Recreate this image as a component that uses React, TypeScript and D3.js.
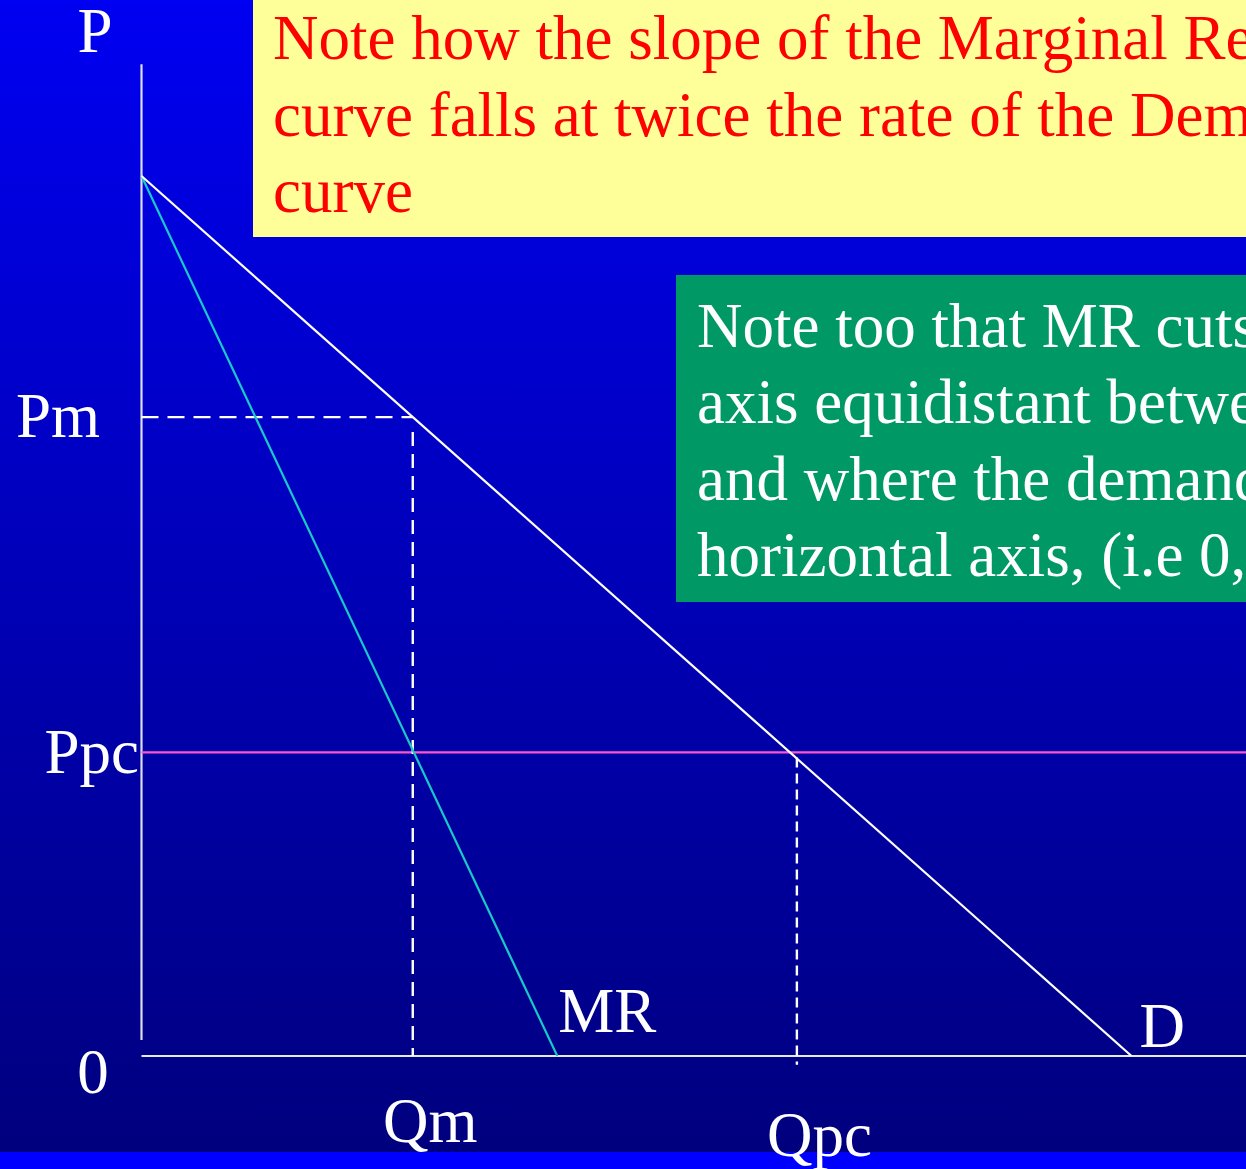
import React from "react";
import * as d3 from "d3";

// Monopoly vs. perfect competition: linear demand and its marginal revenue curve.
const W = 1246;
const H = 1169;

// Price axis runs 0..100 (demand intercept at 100); quantity axis 0..100 (demand intercept at 100).
const demandQ = [0, 100];
const demandP = [100, 0];
const mrQ = [0, 42];
const mrP = [100, 0];

const qm = 27.4; // monopoly output
const pm = 72.6; // monopoly price
const qpc = 66.2; // competitive output
const ppc = 34.5; // competitive price

const axisQExtent = [0, 112];
const axisPExtent = [-0.2, 112.7];

const noteLines = [
  "Note how the slope of the Marginal Revenue",
  "curve falls at twice the rate of the Demand",
  "curve",
];
const noteTwoLines = [
  "Note too that MR cuts the horizontal",
  "axis equidistant between the origin",
  "and where the demand curve cuts the",
  "horizontal axis, (i.e 0, Qpc)",
];

const FONT = "'Liberation Serif', 'Times New Roman', serif";

export default function App() {
  const x = d3.scaleLinear().domain([0, 100]).range([141.5, 1131.5]);
  const y = d3.scaleLinear().domain([0, 100]).range([1056, 176]);

  const line = d3
    .line<[number, number]>()
    .x((d) => x(d[0]))
    .y((d) => y(d[1]));

  const demand = line(demandQ.map((q, i) => [q, demandP[i]] as [number, number]));
  const mr = line(mrQ.map((q, i) => [q, mrP[i]] as [number, number]));

  const label = {
    fill: "#ffffff",
    fontFamily: FONT,
    fontSize: 63,
  } as const;

  return (
    <svg
      width={W}
      height={H}
      viewBox={`0 0 ${W} ${H}`}
      style={{ position: "absolute", left: 0, top: 0, display: "block" }}
    >
      <defs>
        <linearGradient id="bg" x1="0" y1="0" x2="0" y2="1">
          <stop offset="0%" stopColor="rgb(0,0,242)" />
          <stop offset="100%" stopColor="rgb(0,0,126)" />
        </linearGradient>
      </defs>
      <rect x={0} y={0} width={W} height={1152} fill="url(#bg)" />
      <rect x={0} y={1152} width={W} height={H - 1152} fill="#0000ff" />

      {/* Yellow note */}
      <rect x={253} y={0} width={W - 253} height={237} fill="#ffff99" />
      {noteLines.map((t, i) => (
        <text key={t} x={273} y={59 + i * 76.5} fill="#ff0000" fontFamily={FONT} fontSize={63}>
          {t}
        </text>
      ))}

      {/* Green note */}
      <rect x={676} y={275} width={W - 676} height={327} fill="#009966" />
      {noteTwoLines.map((t, i) => (
        <text key={t} x={697} y={347 + i * 76.3} fill="#ffffff" fontFamily={FONT} fontSize={63}>
          {t}
        </text>
      ))}

      {/* Axes */}
      <line
        x1={x(0)}
        x2={x(0)}
        y1={y(axisPExtent[1])}
        y2={1040}
        stroke="#dcdce6"
        strokeWidth={2.2}
      />
      <line
        x1={x(axisQExtent[0])}
        x2={x(axisQExtent[1])}
        y1={y(0)}
        y2={y(0)}
        stroke="#e8e8f0"
        strokeWidth={2.2}
      />

      {/* Competitive price line */}
      <line x1={x(0)} x2={W} y1={y(ppc)} y2={y(ppc)} stroke="#ff55cc" strokeWidth={2.2} />

      {/* Monopoly price and output guides */}
      <line
        x1={x(0)}
        x2={x(qm)}
        y1={y(pm)}
        y2={y(pm)}
        stroke="#ffffff"
        strokeWidth={2.4}
        strokeDasharray="17 9"
      />
      <line
        x1={x(qm)}
        x2={x(qm)}
        y1={y(pm) + 15}
        y2={y(0)}
        stroke="#ffffff"
        strokeWidth={2.4}
        strokeDasharray="14 8"
      />
      {/* Competitive output guide */}
      <line
        x1={x(qpc)}
        x2={x(qpc)}
        y1={y(ppc) + 5}
        y2={y(-1)}
        stroke="#ffffff"
        strokeWidth={2.4}
        strokeDasharray="10 6"
      />

      {/* Curves */}
      <path d={mr ?? ""} fill="none" stroke="#19c8c8" strokeWidth={2.2} />
      <path d={demand ?? ""} fill="none" stroke="#ffffff" strokeWidth={2.2} />

      {/* Labels */}
      <text {...label} x={95} y={52} textAnchor="middle">P</text>
      <text {...label} x={100} y={437} textAnchor="end">Pm</text>
      <text {...label} x={139} y={773} textAnchor="end">Ppc</text>
      <text {...label} x={93} y={1093} textAnchor="middle">0</text>
      <text {...label} x={383} y={1142}>Qm</text>
      <text {...label} x={767} y={1156}>Qpc</text>
      <text {...label} x={x(mrQ[1]) + 1} y={1032}>MR</text>
      <text {...label} x={x(demandQ[1]) + 8} y={1047}>D</text>
    </svg>
  );
}
